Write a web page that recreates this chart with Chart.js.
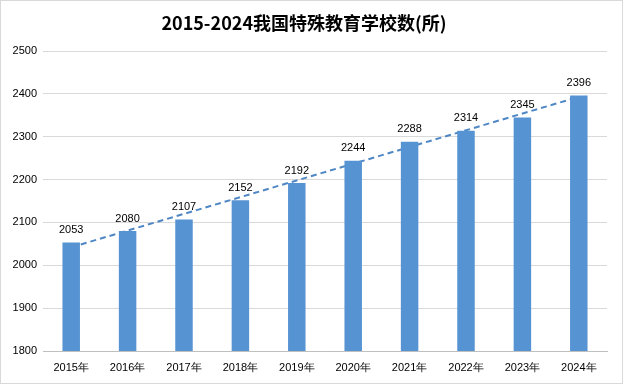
<!DOCTYPE html>
<html>
<head>
<meta charset="utf-8">
<script src="https://cdn.jsdelivr.net/npm/chart.js@4/dist/chart.umd.min.js"></script>
<style>
html,body{margin:0;padding:0;background:#fff;}
#wrap{position:relative;width:623px;height:384px;box-sizing:border-box;border:1px solid #d9d9d9;}
canvas{display:block;}
</style>
</head>
<body>
<div id="wrap"><canvas id="c" width="621" height="382"></canvas></div>
<script>
const categories = ['2015年','2016年','2017年','2018年','2019年','2020年','2021年','2022年','2023年','2024年'];
const schoolCounts = [2053, 2080, 2107, 2152, 2192, 2244, 2288, 2314, 2345, 2396];
const trendValues = [2042, null, null, null, null, null, null, null, null, 2393];
const yTicks = [1800, 1900, 2000, 2100, 2200, 2300, 2400, 2500];
const titleText = '2015-2024我国特殊教育学校数(所)';

const labelFont = '11px "Liberation Sans", Arial, sans-serif';

const barLabels = {
  id: 'barLabels',
  afterDatasetsDraw(chart) {
    const ctx = chart.ctx;
    const meta = chart.getDatasetMeta(0);
    ctx.save();
    ctx.font = labelFont;
    ctx.fillStyle = '#000';
    ctx.textAlign = 'center';
    ctx.textBaseline = 'bottom';
    meta.data.forEach((el, i) => {
      ctx.fillText(String(schoolCounts[i]), el.x, el.y - 7);
    });
    ctx.restore();
  }
};

new Chart(document.getElementById('c'), {
  data: {
    labels: categories,
    datasets: [
      {
        type: 'bar',
        data: schoolCounts,
        backgroundColor: '#5693d2',
        borderWidth: 0,
        barPercentage: 0.31,
        categoryPercentage: 1,
        order: 0
      },
      {
        type: 'line',
        data: trendValues,
        spanGaps: true,
        borderColor: '#4f87c4',
        borderWidth: 2,
        borderDash: [6, 4],
        pointRadius: 0,
        fill: false,
        order: 1
      }
    ]
  },
  options: {
    responsive: false,
    animation: false,
    layout: { padding: { left: 0, right: 15, top: 0, bottom: 0 } },
    plugins: {
      legend: { display: false },
      tooltip: { enabled: false },
      title: {
        display: true,
        text: titleText,
        color: '#000',
        font: { family: '"Noto Sans CJK SC", sans-serif', size: 18, weight: 'bold', lineHeight: 1.2 },
        padding: { top: 11, bottom: 17.4 }
      }
    },
    scales: {
      x: {
        grid: { display: false, drawTicks: false },
        border: { display: true, color: '#bfbfbf', width: 1 },
        ticks: { color: '#000', font: { family: '"Liberation Sans", Arial, sans-serif', size: 11 }, padding: 10, maxRotation: 0 },
        afterFit(s) { s.height = 32; }
      },
      y: {
        min: 1800,
        max: 2500,
        afterBuildTicks(s) { s.ticks = yTicks.map(v => ({ value: v })); },
        grid: { color: '#d9d9d9', drawTicks: false },
        border: { display: false },
        ticks: { color: '#000', font: { family: '"Liberation Sans", Arial, sans-serif', size: 11 }, padding: 6, callback: v => String(v) },
        afterFit(s) { s.width = 42; }
      }
    }
  },
  plugins: [barLabels]
});
</script>
</body>
</html>
